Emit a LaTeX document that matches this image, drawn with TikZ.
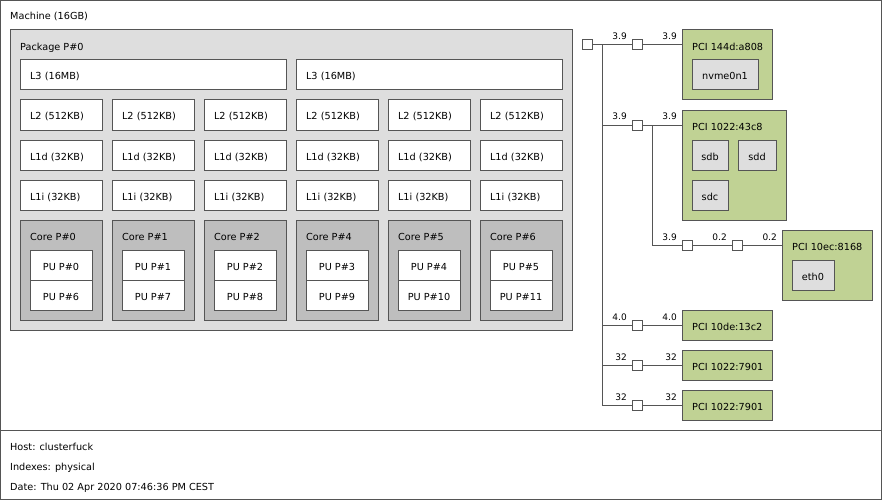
\documentclass[tikz,border=0pt]{standalone}
\usepackage{fontspec}
\setmainfont{DejaVu Sans}
\definecolor{bordc}{HTML}{555555}
\definecolor{pkgc}{HTML}{DEDEDE}
\definecolor{corec}{HTML}{BEBEBE}
\definecolor{pcic}{HTML}{C0D294}
\definecolor{osc}{HTML}{DEDEDE}
\begin{document}
\begin{tikzpicture}[x=1pt,y=-1pt,font=\fontsize{9.7}{11}\selectfont,
  box/.style={draw=bordc,line width=1pt,anchor=north west,inner sep=0pt,outer sep=0pt,text height=10pt,text depth=0pt},
  cache/.style={box,fill=white,minimum height=30pt,text width=62pt,align=left,inner xsep=10pt},
  bigcache/.style={box,fill=white,minimum height=30pt,text width=246pt,align=left,inner xsep=10pt},
  pu/.style={box,fill=white,minimum width=62pt,minimum height=30pt},
  osdev/.style={box,fill=osc,minimum height=30pt},
  bridge/.style={box,fill=white,minimum width=10pt,minimum height=10pt},
  txt/.style={anchor=base west,inner sep=0pt},
  lab/.style={anchor=base east,inner sep=0pt,font=\fontsize{9}{10}\selectfont},
  conn/.style={draw=bordc,line width=1pt}]
\useasboundingbox (0,0) rectangle (882,500);
% frames
\node[box,fill=white,minimum width=881pt,minimum height=429.5pt] (machine) at (0.5,0.5) {};
\node[box,fill=white,minimum width=881pt,minimum height=69pt] (legend) at (0.5,430) {};
\node[txt] (machinet) at (10,20) {Machine (16GB)};
% package
\node[box,fill=pkgc,minimum width=562pt,minimum height=300pt] (pkg) at (10,30) {};
\node[txt] (pkgt) at (20,50.5) {Package P\#0};
\node[bigcache] (l3a) at (20,60) {L3 (16MB)};
\node[bigcache] (l3b) at (296,60) {L3 (16MB)};
\foreach \i/\c/\pa/\pb [evaluate=\i as \x using 20+92*\i] in {0/0/0/6,1/1/1/7,2/2/2/8,3/4/3/9,4/5/4/10,5/6/5/11}{
  \node[cache] (l2-\i) at (\x,100) {L2 (512KB)};
  \node[cache] (l1d-\i) at (\x,140) {L1d (32KB)};
  \node[cache] (l1i-\i) at (\x,180) {L1i (32KB)};
  \node[box,fill=corec,minimum width=82pt,minimum height=100pt] (core-\i) at (\x,220) {};
  \node[txt] (coret-\i) at (\x+10,240.5) {Core P\#\c};
  \node[pu] (pua-\i) at (\x+10,250) {PU P\#\pa};
  \node[pu] (pub-\i) at (\x+10,280) {PU P\#\pb};
}
% host bridge and tree
\node[bridge] (hb) at (582,40) {};
\coordinate (j1) at (602,45);
\coordinate (j2) at (602,125);
\coordinate (j4) at (602,325);
\coordinate (j5) at (602,365);
\coordinate (j6) at (602,405);
\draw[conn] (hb.east) -- (j1);
\draw[conn] (j1) -- (j6);
% devices
\node[box,fill=pcic,minimum width=90pt,minimum height=70pt] (dev1) at (682,30) {};
\node[txt] (dev1t) at (692,50.5) {PCI 144d:a808};
\node[osdev,minimum width=66pt] (nvme) at (692,60) {nvme0n1};
\node[box,fill=pcic,minimum width=104pt,minimum height=110pt] (dev2) at (682,110) {};
\node[txt] (dev2t) at (692,130.5) {PCI 1022:43c8};
\node[osdev,minimum width=36pt] (sdb) at (692,140) {sdb};
\node[osdev,minimum width=38pt] (sdd) at (738,140) {sdd};
\node[osdev,minimum width=36pt] (sdc) at (692,180) {sdc};
\node[box,fill=pcic,minimum width=90pt,minimum height=70pt] (dev3) at (782,230) {};
\node[txt] (dev3t) at (792,250.5) {PCI 10ec:8168};
\node[osdev,minimum width=42pt] (eth) at (792,260) {eth0};
\node[box,fill=pcic,minimum width=90pt,minimum height=30pt] (dev4) at (682,310) {};
\node[txt] (dev4t) at (692,330) {PCI 10de:13c2};
\node[box,fill=pcic,minimum width=90pt,minimum height=30pt] (dev5) at (682,350) {};
\node[txt] (dev5t) at (692,370) {PCI 1022:7901};
\node[box,fill=pcic,minimum width=90pt,minimum height=30pt] (dev6) at (682,390) {};
\node[txt] (dev6t) at (692,410) {PCI 1022:7901};
% bridges
\node[bridge] (b1) at (632,40) {};
\node[bridge] (b2) at (632,120) {};
\node[bridge] (b3) at (682,240) {};
\node[bridge] (b4) at (732,240) {};
\node[bridge] (b5) at (632,320) {};
\node[bridge] (b6) at (632,360) {};
\node[bridge] (b7) at (632,400) {};
\coordinate (k2) at (652,125);
% connectors
\draw[conn] (j1) -- (b1.west);
\draw[conn] (b1.east) -- (b1.east -| dev1.west);
\draw[conn] (j2) -- (b2.west);
\draw[conn] (b2.east) -- (b2.east -| dev2.west);
\draw[conn] (k2) |- (b3.west);
\draw[conn] (b3.east) -- (b4.west);
\draw[conn] (b4.east) -- (b4.east -| dev3.west);
\draw[conn] (j4) -- (b5.west);
\draw[conn] (b5.east) -- (dev4.west);
\draw[conn] (j5) -- (b6.west);
\draw[conn] (b6.east) -- (dev5.west);
\draw[conn] (j6) -- (b7.west);
\draw[conn] (b7.east) -- (dev6.west);
% link labels
\node[lab] (l1a) at (627,40) {3.9};
\node[lab] (l1b) at (677,40) {3.9};
\node[lab] (l2a) at (627,120) {3.9};
\node[lab] (l2b) at (677,120) {3.9};
\node[lab] (l3x) at (677,240) {3.9};
\node[lab] (l3y) at (727,240) {0.2};
\node[lab] (l3z) at (777,240) {0.2};
\node[lab] (l4a) at (627,320) {4.0};
\node[lab] (l4b) at (677,320) {4.0};
\node[lab] (l5a) at (627,360) {32};
\node[lab] (l5b) at (677,360) {32};
\node[lab] (l6a) at (627,400) {32};
\node[lab] (l6b) at (677,400) {32};
% legend
\node[txt] (host) at (10,450) {Host: clusterfuck};
\node[txt] (idx) at (10,470) {Indexes: physical};
\node[txt] (date) at (10,490) {Date: Thu 02 Apr 2020 07:46:36 PM CEST};
\end{tikzpicture}
\end{document}
